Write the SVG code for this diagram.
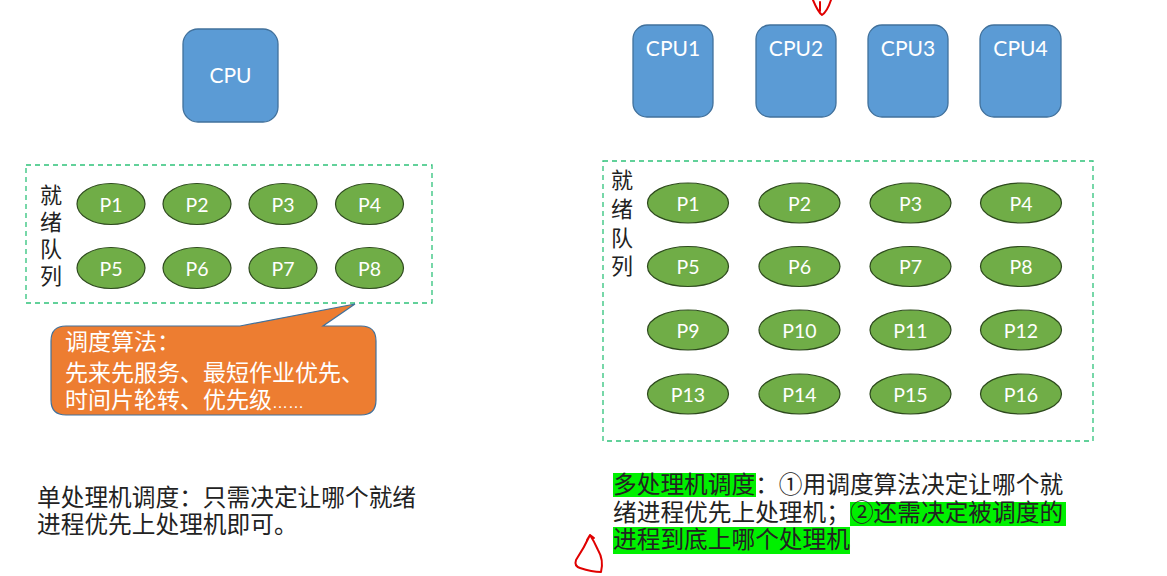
<svg xmlns="http://www.w3.org/2000/svg" width="1167" height="576" viewBox="0 0 1167 576">
<style>
.cpu{fill:#5b9bd5;stroke:#41719c;stroke-width:1.3}
.cput{font-family:Lato,"Open Sans",sans-serif;font-size:21px;fill:#fff;text-anchor:middle}
.p{fill:#70ad47;stroke:#2e4a1e;stroke-width:1.2}
.pt{font-family:Lato,"Open Sans",sans-serif;font-size:19.5px;fill:#fff;text-anchor:middle;dominant-baseline:central}
.dash{fill:none;stroke:#2fc27a;stroke-width:1.3;stroke-dasharray:5,4}
.cn{font-family:"Noto Sans CJK SC",sans-serif;font-size:22px;fill:#222}
.bt{font-family:"Noto Sans CJK SC",sans-serif;font-size:23.7px;fill:#222}
.hl{fill:#00f000}
.red{fill:none;stroke:#e00000;stroke-width:2;stroke-linecap:round;stroke-linejoin:round}
</style>
<rect width="1167" height="576" fill="#ffffff"/>

<g id="cpu">
<rect class="cpu" x="183" y="29" width="95" height="93" rx="15"/>
<text class="cput" x="230.5" y="83">CPU</text>
</g>
<g id="cpu1"><rect class="cpu" x="633" y="25" width="80" height="92" rx="14"/><text class="cput" x="673" y="56">CPU1</text></g>
<g id="cpu2"><rect class="cpu" x="756" y="25" width="80" height="92" rx="14"/><text class="cput" x="796" y="56">CPU2</text></g>
<g id="cpu3"><rect class="cpu" x="868" y="25" width="80" height="92" rx="14"/><text class="cput" x="908" y="56">CPU3</text></g>
<g id="cpu4"><rect class="cpu" x="980" y="25" width="81" height="92" rx="14"/><text class="cput" x="1020.5" y="56">CPU4</text></g>

<g id="queue-left">
<rect class="dash" x="26" y="165" width="406" height="138"/>
<text class="cn" x="51" y="193" text-anchor="middle" dominant-baseline="central">就</text>
<text class="cn" x="51" y="220" text-anchor="middle" dominant-baseline="central">绪</text>
<text class="cn" x="51" y="247" text-anchor="middle" dominant-baseline="central">队</text>
<text class="cn" x="51" y="274" text-anchor="middle" dominant-baseline="central">列</text>
</g>
<g id="lp1"><ellipse class="p" cx="111" cy="204" rx="34" ry="20.5"/><text class="pt" x="111" y="204">P1</text></g>
<g id="lp2"><ellipse class="p" cx="197" cy="204" rx="34" ry="20.5"/><text class="pt" x="197" y="204">P2</text></g>
<g id="lp3"><ellipse class="p" cx="283" cy="204" rx="34" ry="20.5"/><text class="pt" x="283" y="204">P3</text></g>
<g id="lp4"><ellipse class="p" cx="369.5" cy="204" rx="34" ry="20.5"/><text class="pt" x="369.5" y="204">P4</text></g>
<g id="lp5"><ellipse class="p" cx="111" cy="268" rx="34" ry="20.5"/><text class="pt" x="111" y="268">P5</text></g>
<g id="lp6"><ellipse class="p" cx="197" cy="268" rx="34" ry="20.5"/><text class="pt" x="197" y="268">P6</text></g>
<g id="lp7"><ellipse class="p" cx="283" cy="268" rx="34" ry="20.5"/><text class="pt" x="283" y="268">P7</text></g>
<g id="lp8"><ellipse class="p" cx="369.5" cy="268" rx="34" ry="20.5"/><text class="pt" x="369.5" y="268">P8</text></g>

<g id="callout">
<path d="M66,326 L240,326 L355,304 L323,326 L361,326 Q376,326 376,341 L376,400 Q376,415 361,415 L66,415 Q51,415 51,400 L51,341 Q51,326 66,326 Z" fill="#ed7d31" stroke="#41719c" stroke-width="1.2"/>
<g font-family="'Noto Sans CJK SC',sans-serif" font-size="23" fill="#fff">
<text x="65" y="350">调度算法：</text>
<text x="65" y="381">先来先服务、最短作业优先、</text>
<text x="65" y="408">时间片轮转、优先级<tspan font-family="'Liberation Sans',sans-serif" font-size="16">……</tspan></text>
</g>
</g>

<g id="single-desc">
<text class="bt" x="37" y="506">单处理机调度：只需决定让哪个就绪</text>
<text class="bt" x="37" y="533">进程优先上处理机即可。</text>
</g>

<g id="queue-right">
<rect class="dash" x="603" y="161" width="490" height="280"/>
<text class="cn" x="622" y="178" text-anchor="middle" dominant-baseline="central">就</text>
<text class="cn" x="622" y="207" text-anchor="middle" dominant-baseline="central">绪</text>
<text class="cn" x="622" y="236" text-anchor="middle" dominant-baseline="central">队</text>
<text class="cn" x="622" y="264" text-anchor="middle" dominant-baseline="central">列</text>
</g>
<g id="rp1"><ellipse class="p" cx="688" cy="203" rx="40.5" ry="20"/><text class="pt" x="688" y="203">P1</text></g>
<g id="rp2"><ellipse class="p" cx="799.5" cy="203" rx="40.5" ry="20"/><text class="pt" x="799.5" y="203">P2</text></g>
<g id="rp3"><ellipse class="p" cx="910.5" cy="203" rx="40.5" ry="20"/><text class="pt" x="910.5" y="203">P3</text></g>
<g id="rp4"><ellipse class="p" cx="1021" cy="203" rx="40.5" ry="20"/><text class="pt" x="1021" y="203">P4</text></g>
<g id="rp5"><ellipse class="p" cx="688" cy="266.5" rx="40.5" ry="20"/><text class="pt" x="688" y="266.5">P5</text></g>
<g id="rp6"><ellipse class="p" cx="799.5" cy="266.5" rx="40.5" ry="20"/><text class="pt" x="799.5" y="266.5">P6</text></g>
<g id="rp7"><ellipse class="p" cx="910.5" cy="266.5" rx="40.5" ry="20"/><text class="pt" x="910.5" y="266.5">P7</text></g>
<g id="rp8"><ellipse class="p" cx="1021" cy="266.5" rx="40.5" ry="20"/><text class="pt" x="1021" y="266.5">P8</text></g>
<g id="rp9"><ellipse class="p" cx="688" cy="330" rx="40.5" ry="20"/><text class="pt" x="688" y="330">P9</text></g>
<g id="rp10"><ellipse class="p" cx="799.5" cy="330" rx="40.5" ry="20"/><text class="pt" x="799.5" y="330">P10</text></g>
<g id="rp11"><ellipse class="p" cx="910.5" cy="330" rx="40.5" ry="20"/><text class="pt" x="910.5" y="330">P11</text></g>
<g id="rp12"><ellipse class="p" cx="1021" cy="330" rx="40.5" ry="20"/><text class="pt" x="1021" y="330">P12</text></g>
<g id="rp13"><ellipse class="p" cx="688" cy="394" rx="40.5" ry="20"/><text class="pt" x="688" y="394">P13</text></g>
<g id="rp14"><ellipse class="p" cx="799.5" cy="394" rx="40.5" ry="20"/><text class="pt" x="799.5" y="394">P14</text></g>
<g id="rp15"><ellipse class="p" cx="910.5" cy="394" rx="40.5" ry="20"/><text class="pt" x="910.5" y="394">P15</text></g>
<g id="rp16"><ellipse class="p" cx="1021" cy="394" rx="40.5" ry="20"/><text class="pt" x="1021" y="394">P16</text></g>

<g id="multi-desc">
<rect class="hl" x="613" y="473" width="143" height="24"/>
<rect class="hl" x="850" y="502" width="216" height="24"/>
<rect class="hl" x="613" y="527" width="237" height="27"/>
<text class="bt" x="613" y="493">多处理机调度：①用调度算法决定让哪个就</text>
<text class="bt" x="613" y="521">绪进程优先上处理机；②还需决定被调度的</text>
<text class="bt" x="613" y="548">进程到底上哪个处理机</text>
</g>

<g id="annotations">
<path class="red" d="M813,0 Q818,12 822,15 Q827,12 831,0"/>
<path class="red" d="M820,2 L820,11"/>
<path class="red" d="M590,535 Q584,548 576,560 Q574,566 580,568 Q592,572 601,572 Q604,560 598,550 Q594,541 590,535 M590,535 L587,540 M590,535 L594,538"/>
</g>
</svg>
